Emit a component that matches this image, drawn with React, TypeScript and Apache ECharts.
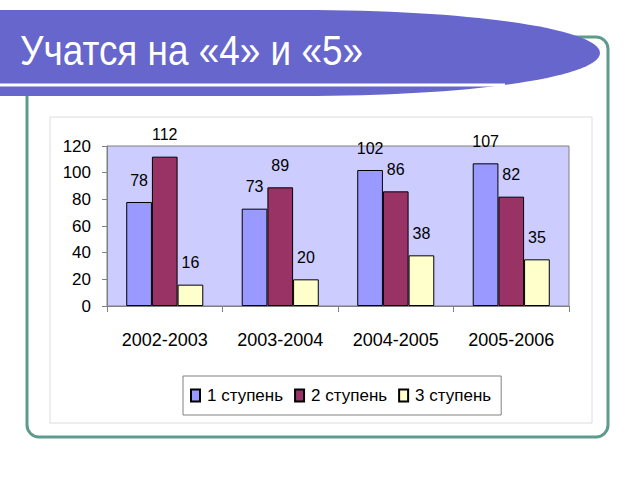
import React, { useEffect, useRef } from "react";
import * as echarts from "echarts";

const titleText = "Учатся на «4» и «5»";
const categories = ["2002-2003", "2003-2004", "2004-2005", "2005-2006"];
const seriesNames = ["1 ступень", "2 ступень", "3 ступень"];
const step1 = [78, 73, 102, 107];
const step2 = [112, 89, 86, 82];
const step3 = [16, 20, 38, 35];
const yMin = 0;
const yMax = 120;
const yInterval = 20;

const barColors = ["#9999FF", "#993366", "#FFFFCC"];
const FONT = '"Liberation Sans", Arial, sans-serif';

const TITLE_PATH =
  "M -10 10 L 300 10 C 480 10 600 30 600 53 C 600 76 480 96 300 96 L -10 96 Z";

let registered = false;
function ensureShape() {
  if (registered) return;
  echarts.graphic.registerShape("titleBanner", echarts.graphic.extendPath(TITLE_PATH, {}) as any);
  registered = true;
}

function measure(text: string, font: string): number {
  const c = document.createElement("canvas").getContext("2d");
  if (!c) return 0;
  c.font = font;
  return c.measureText(text).width;
}

export default function App() {
  const ref = useRef<HTMLDivElement>(null);
  useEffect(() => {
    if (!ref.current) return;
    ensureShape();
    const chart = echarts.init(ref.current, undefined, { renderer: "svg" });
    const tw = measure(titleText, '42px "Liberation Sans"') || 380;
    const titleScale = 343 / tw;
    const data = [step1, step2, step3];
    chart.setOption({
      animation: false,
      backgroundColor: "#ffffff",
      graphic: [
        {
          type: "rect",
          z: -20,
          shape: { x: 27, y: 37, width: 581, height: 400, r: 12 },
          style: { fill: "#ffffff", stroke: "#5f9b8c", lineWidth: 3 },
        },
        {
          type: "rect",
          z: -19,
          shape: { x: 50, y: 117, width: 542, height: 306 },
          style: { fill: "#ffffff", stroke: "#dcdcdc", lineWidth: 1 },
        },
        {
          type: "titleBanner",
          z: 50,
          x: 0,
          y: 0,
          style: { fill: "#6666CC" },
        },
        {
          type: "line",
          z: 51,
          shape: { x1: 0, y1: 85, x2: 505, y2: 85 },
          style: { stroke: "#ffffff", lineWidth: 3 },
        },
        {
          type: "text",
          z: 52,
          x: 20,
          y: 50,
          scaleX: titleScale,
          style: {
            text: titleText,
            font: '42px "Liberation Sans", Arial, sans-serif',
            fill: "#ffffff",
            verticalAlign: "middle",
            align: "left",
          },
        },
      ],
      legend: {
        left: 183,
        top: 376,
        orient: "horizontal",
        backgroundColor: "#ffffff",
        borderColor: "#808080",
        borderWidth: 1,
        padding: [11, 10, 11, 7],
        itemWidth: 9,
        itemHeight: 12,
        itemGap: 11,
        icon: "rect",
        textStyle: { fontFamily: FONT, fontSize: 17, color: "#000", padding: [0, 0, 0, 2] },
        data: seriesNames,
      },
      grid: {
        left: 107,
        right: 71,
        top: 146,
        bottom: 174,
        show: true,
        backgroundColor: "#CCCCFF",
        borderColor: "#808080",
        borderWidth: 1,
      },
      xAxis: {
        type: "category",
        data: categories,
        axisLine: { show: true, lineStyle: { color: "#808080", width: 1 } },
        axisTick: { show: true, length: 6, lineStyle: { color: "#808080" } },
        axisLabel: { fontFamily: FONT, fontSize: 18, color: "#000", margin: 25, interval: 0 },
        splitLine: { show: false },
      },
      yAxis: {
        type: "value",
        min: yMin,
        max: yMax,
        interval: yInterval,
        axisLine: { show: true, lineStyle: { color: "#808080", width: 1 } },
        axisTick: { show: true, length: 5, lineStyle: { color: "#808080" } },
        axisLabel: { fontFamily: FONT, fontSize: 17, color: "#000", margin: 16 },
        splitLine: { show: false },
      },
      series: seriesNames.map((name, i) => ({
        name,
        type: "bar",
        data: data[i],
        barGap: "0%",
        barCategoryGap: "33.3%",
        itemStyle: { color: barColors[i], borderColor: "#000000", borderWidth: 1 },
        label: {
          show: true,
          position: "top",
          distance: 14,
          fontFamily: FONT,
          fontSize: 16,
          color: "#000",
        },
      })),
    });
    return () => chart.dispose();
  }, []);
  return (
    <div
      ref={ref}
      style={{ position: "fixed", left: 0, top: 0, width: 640, height: 480, background: "#fff" }}
    />
  );
}
